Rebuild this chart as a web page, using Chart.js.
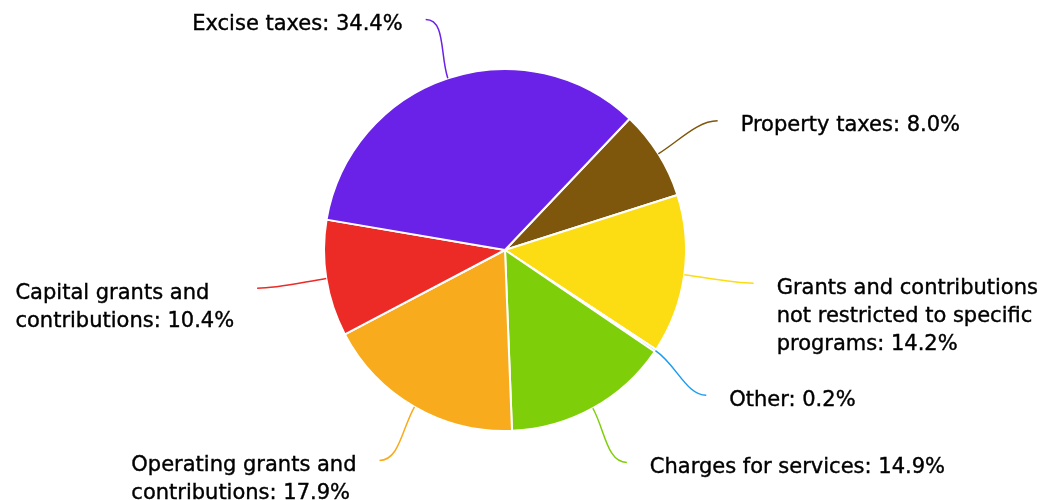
<!DOCTYPE html>
<html>
<head>
<meta charset="utf-8">
<script src="https://cdn.jsdelivr.net/npm/chart.js@4.4.1/dist/chart.umd.min.js"></script>
<style>
html, body { margin: 0; padding: 0; background: #fff; }
#wrap { width: 1042px; height: 500px; }
</style>
</head>
<body>
<div id="wrap"><canvas id="pie"></canvas></div>
<script>
// categories and shares (%)
const categories = [
    'Property taxes',
    'Grants and contributions not restricted to specific programs',
    'Other',
    'Charges for services',
    'Operating grants and contributions',
    'Capital grants and contributions',
    'Excise taxes'
];
const values = [8.0, 14.2, 0.2, 14.9, 17.9, 10.4, 34.4];
const colors = ['#7e560c', '#fcdc12', '#1a9cf0', '#7ecf09', '#f8ab1c', '#ec2a26', '#6a21e8'];

const labelFont = '21px "DejaVu Sans"';
const lineHeight = 28;
const textGap = 23;

// cut a label into lines that fit in maxW
function wrapText(ctx, text, maxW) {
    const words = text.split(' ');
    const lines = [];
    let cur = '';
    words.forEach(w => {
        const test = cur ? cur + ' ' + w : w;
        if (cur && ctx.measureText(test).width > maxW) {
            lines.push(cur);
            cur = w;
        } else {
            cur = test;
        }
    });
    if (cur) lines.push(cur);
    return lines;
}

// callout lines + labels
const callouts = {
    id: 'callouts',
    afterDatasetsDraw(chart) {
        const ctx = chart.ctx;
        const meta = chart.getDatasetMeta(0);
        ctx.save();
        ctx.font = labelFont;

        // first pass : ideal positions on an ellipse around the pie
        const items = meta.data.map((arc, i) => {
            const p = arc.getProps(['x', 'y', 'startAngle', 'endAngle', 'outerRadius'], true);
            const mid = (p.startAngle + p.endAngle) / 2;
            const cos = Math.cos(mid), sin = Math.sin(mid);
            const rx = p.outerRadius + 70, ry = p.outerRadius + 62;
            const side = cos >= 0 ? 1 : -1;
            const text = categories[i] + ': ' + values[i].toFixed(1) + '%';
            const x3 = p.x + cos * rx;
            const tx = x3 + side * textGap;
            const avail = side > 0 ? chart.width - tx : tx - 4;
            return {
                i, side, cos, sin, cx: p.x, cy: p.y, rx, ry,
                x0: p.x + cos * p.outerRadius, y0: p.y + sin * p.outerRadius,
                x3, y3: p.y + sin * ry,
                lines: wrapText(ctx, text, avail)
            };
        });

        // second pass : push labels down on each side so blocks don't collide
        [1, -1].forEach(s => {
            const list = items.filter(it => it.side === s).sort((a, b) => a.y3 - b.y3);
            let lastLine = -Infinity;
            list.forEach(it => {
                const minY = lastLine + 2 * lineHeight;
                if (it.y3 < minY) {
                    it.y3 = minY;
                    const t = Math.min(1, Math.abs((it.y3 - it.cy) / it.ry));
                    it.x3 = it.cx + s * it.rx * Math.sqrt(1 - t * t);
                }
                lastLine = it.y3 + (it.lines.length - 1) * lineHeight;
            });
        });

        items.forEach(it => {
            ctx.strokeStyle = colors[it.i];
            ctx.lineWidth = 1.5;
            ctx.beginPath();
            ctx.moveTo(it.x0, it.y0);
            ctx.bezierCurveTo(it.x0 + it.cos * 25, it.y0 + it.sin * 25,
                it.x3 - it.side * 20, it.y3, it.x3, it.y3);
            ctx.stroke();

            const tx = it.x3 + it.side * textGap;
            const blockW = Math.max(...it.lines.map(l => ctx.measureText(l).width));
            const left = it.side > 0 ? tx : tx - blockW;
            ctx.fillStyle = '#000';
            ctx.strokeStyle = '#000';
            ctx.lineWidth = 0.4;
            ctx.textAlign = 'left';
            ctx.textBaseline = 'middle';
            it.lines.forEach((l, k) => {
                const ly = it.y3 + 5 + k * lineHeight;
                ctx.fillText(l, left, ly);
                ctx.strokeText(l, left, ly);
            });
        });
        ctx.restore();
    }
};

new Chart(document.getElementById('pie'), {
    type: 'pie',
    data: {
        labels: categories,
        datasets: [{
            data: values,
            backgroundColor: colors,
            borderColor: '#ffffff',
            borderWidth: 2
        }]
    },
    options: {
        responsive: true,
        maintainAspectRatio: false,
        animation: false,
        rotation: 43.5,
        layout: { padding: { top: 68, bottom: 68, left: 0, right: 32 } },
        plugins: {
            legend: { display: false },
            tooltip: { enabled: false }
        }
    },
    plugins: [callouts]
});
</script>
</body>
</html>
